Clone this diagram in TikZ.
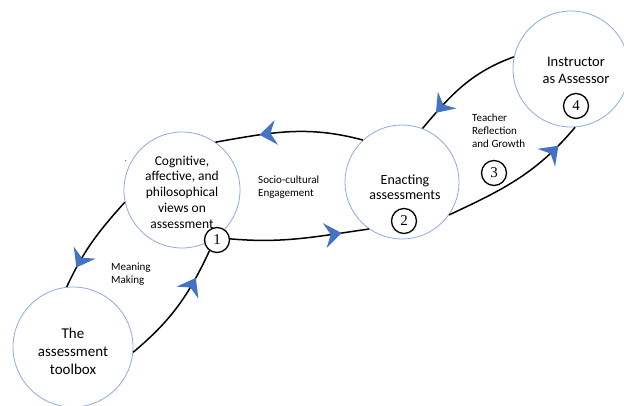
\documentclass[tikz,border=0pt]{standalone}
\usepackage{fontspec}
\setmainfont{Carlito}
\newfontfamily\numfont{Liberation Serif}
\usetikzlibrary{arrows.meta,decorations.markings}
\definecolor{arrowblue}{HTML}{4472C4}
\definecolor{ringblue}{HTML}{8FAADC}
\begin{document}
\begin{tikzpicture}[x=1pt,y=-1pt,
 bigcirc/.style={circle, draw=ringblue, line width=0.8pt, fill=white, minimum size=#1, inner sep=0pt},
 numcirc/.style={circle, draw=black, line width=1.3pt, fill=white, minimum size=25pt, inner sep=0pt, font=\numfont\fontsize{15}{15}\selectfont},
 conn/.style={line width=1.5pt, postaction={decorate}, decoration={markings, mark=at position #1 with {\fill[arrowblue] (3pt,0pt) -- (-14pt,12.5pt) -- (-8pt,0pt) -- (-14pt,-12.5pt) -- cycle;}}},
 lbl/.style={align=left, font=\fontsize{11}{13}\selectfont, inner sep=0pt, anchor=west},
 ctext/.style={align=center, inner sep=0pt}]
\useasboundingbox (0,0) rectangle (624,405);
% big circles
\node[bigcirc=116pt] (C1) at (182,190) {};
\node[bigcirc=120pt] (T) at (73,347) {};
\node[bigcirc=114pt] (E) at (402,182) {};
\node[bigcirc=116pt] (I) at (571,69) {};
% texts in circles
\node[ctext, font=\fontsize{13.5}{15.7}\selectfont] (C1t) at (182,192) {Cognitive,\\affective, and\\philosophical\\views on\\assessment};
\node[ctext, font=\fontsize{15}{18}\selectfont] (Tt) at (73,351) {The\\assessment\\toolbox};
\node[ctext, font=\fontsize{14}{14.5}\selectfont] (Et) at (405,187) {Enacting\\assessments};
\node[ctext, font=\fontsize{14.5}{17}\selectfont] (It) at (576,70) {Instructor\\as Assessor};
\node[font=\fontsize{8}{8}\selectfont, inner sep=0pt] (dot) at (126,161) {.};
% number circles
\node[numcirc] (n1) at (217,240) {1};
\node[numcirc] (n2) at (404,221) {2};
\node[numcirc] (n3) at (494,173) {3};
\node[numcirc] (n4) at (576,106) {4};
% labels
\node[lbl] (l1) at (258,187) {Socio-cultural\\Engagement};
\node[lbl] (l2) at (111,274) {Meaning\\Making};
\node[lbl] (l3) at (472,131) {Teacher\\Reflection\\and Growth};
% connectors
\draw[conn=0.68] (E.133) to[out=165, in=10] (C1.55);
\draw[conn=0.78] (n1.5) to[out=-5, in=188] (E.235);
\draw[conn=0.76] (C1.192) to[out=228, in=65] (T.96);
\draw[conn=0.74] (T.-5) to[out=40, in=245] (n1.235);
\draw[conn=0.8] (I.168) to[out=200, in=50] (E.69);
\draw[conn=0.82] (E.-35) to[out=25, in=230] (I.-86);
\end{tikzpicture}
\end{document}
